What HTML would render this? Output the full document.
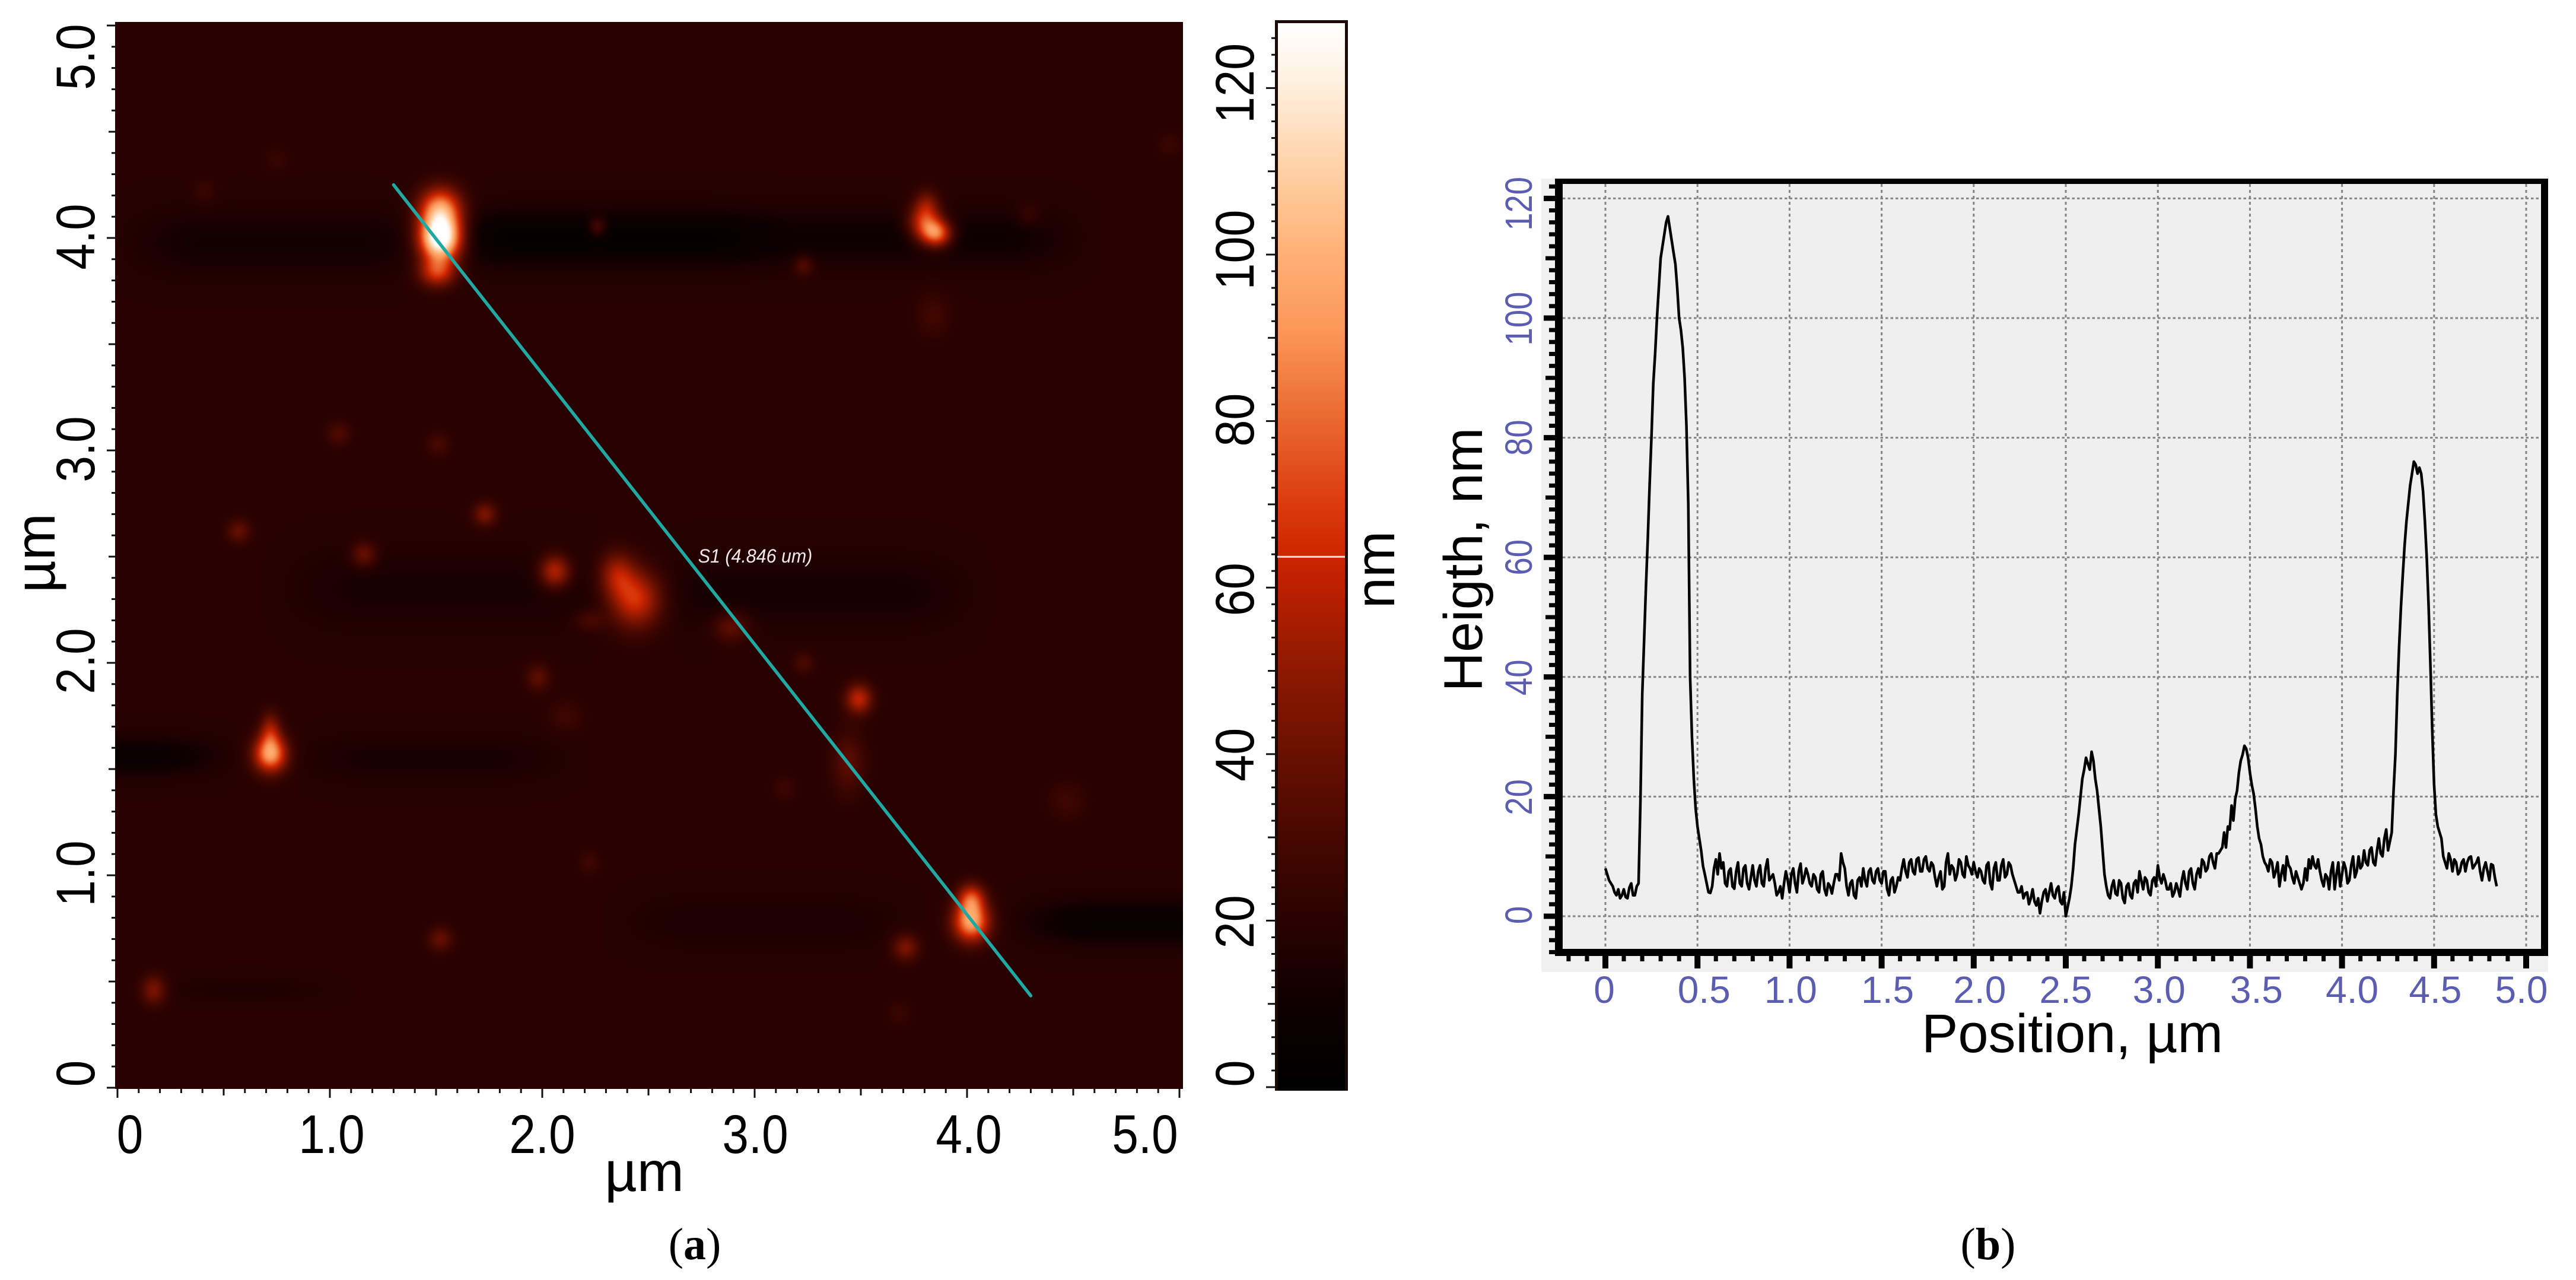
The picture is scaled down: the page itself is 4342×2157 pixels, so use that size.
<!DOCTYPE html>
<html lang="en">
<head>
<meta charset="utf-8">
<title>AFM height map and cross-section profile</title>
<style>
html,body{margin:0;padding:0;background:#fff;width:4342px;height:2157px;overflow:hidden}
#stage{position:relative;width:4342px;height:2157px}
#afm-canvas{position:absolute;left:194px;top:37px;width:1800px;height:1798px;display:block}
#figure{position:absolute;left:0;top:0}
text{font-family:"Liberation Sans",sans-serif}
</style>
</head>
<body>
<div id="stage">
<canvas id="afm-canvas" width="600" height="600"></canvas>
<svg id="figure" xmlns="http://www.w3.org/2000/svg" width="4342" height="2157" viewBox="0 0 4342 2157">
<defs>
<linearGradient id="cbar-gradient" x1="0" y1="1" x2="0" y2="0"></linearGradient>
</defs>
<g id="panel-a"></g>
<g id="panel-b"></g>
</svg>
</div>
<script>
// ---- Colour scale data (nm -> colour) ----
const colormapValues = [0, 10, 20, 30, 40, 50, 60, 64, 70, 80, 90, 100, 110, 120, 127];
const colormapColors = ['#000000','#0e0000','#2b0200','#470800','#6a1000','#8e1900','#bd2000','#cd2800','#dc3c10','#ea6a30','#fb9658','#ffb277','#ffd2a8','#fff0e0','#ffffff'];

// ---- Panel (a): AFM surface features (um, um, nm, um, um) ----
const baseHeight = 18.5;
const spotX = [1.52,1.52,1.505,3.80,3.86,3.81,2.26,3.23,3.84,1.04,1.51,1.73,0.57,1.16,2.06,2.44,2.35,2.22,2.89,3.23,3.49,1.98,2.11,0.72,0.72,3.44,4.02,4.02,3.71,1.52,0.17,4.47,3.14,2.22,3.68,4.29,0.41,0.75,4.95];
const spotY = [4.00,4.14,3.84,4.07,4.02,4.16,4.05,3.87,3.64,3.08,3.03,2.70,2.62,2.51,2.43,2.30,2.42,2.20,2.17,2.00,1.83,1.93,1.75,1.57,1.68,1.53,0.78,0.89,0.66,0.70,0.46,1.35,1.41,1.06,0.35,4.11,4.22,4.37,4.44];
const spotHeight = [140,85,64,68,78,40,40,35,28,32,30,44,38,40,60,66,50,30,38,31,60,36,27,92,50,36,94,66,44,38,44,27,26,27,25,26,25,24,25];
const spotSigmaX = [.068,.07,.06,.055,.05,.04,.03,.032,.055,.04,.04,.04,.04,.042,.052,.085,.06,.05,.06,.035,.045,.04,.055,.055,.035,.055,.06,.045,.045,.042,.042,.06,.04,.035,.04,.04,.04,.04,.04];
const spotSigmaY = [.075,.07,.05,.06,.045,.05,.033,.035,.07,.04,.04,.04,.04,.042,.055,.095,.075,.035,.05,.035,.05,.045,.05,.06,.06,.1,.065,.05,.045,.042,.05,.06,.04,.04,.04,.04,.04,.04,.04];
const bandY = [3.98,4.00,4.00,2.35,2.33,1.56,1.55,0.78,0.78,0.46];
const bandStart = [0.15,1.62,3.00,0.90,2.60,-0.30,0.95,4.35,2.50,0.30];
const bandEnd = [1.40,3.00,4.40,2.30,3.90,0.40,2.00,5.30,3.60,0.90];
const bandDepth = [7,15,9,5,6,12,5,13,4,3];
const bandThickness = [.1,.09,.09,.12,.11,.06,.07,.07,.08,.035];
const scanStart = [1.30,4.25];
const scanEnd = [4.30,0.433];

const mapTickLabels = ['0','1.0','2.0','3.0','4.0','5.0'];
const mapTickValues = [0,1,2,3,4,5];
const cbarTickLabels = ['0','20','40','60','80','100','120'];
const cbarTickValues = [0,20,40,60,80,100,120];
const cbarMarker = 63.7;

// ---- Panel (b): profile heights (nm), one sample every 0.02 um from 0 ----
const profileStep = 0.02;
const profileHeight = [
8,6,5,3.5,3,4.5,3,5.5,3.5,5.5,
37,55,72,89,100,110,114,117,113,109,
100,95,82,40,23,15,11,7,4,5,
9.5,10.5,9,5,8,4.6,9,5,8.5,4.5,
8.5,5,8.5,5,9.5,6.5,5.5,4,3,7.5,
4,8,4,8.8,6.5,7,5,6.5,4,7.5,
3.5,5,5.5,7,10.5,8,3.5,6,3,6.5,
8,5,8,5.5,8,5.5,7.5,3.5,6.5,5,
6,9.5,6.5,9.5,7,9.8,7.5,10,7.5,8.5,
5,7.5,5,10.5,8.5,6,9.5,7,10,8,
9,6.5,7.5,5.5,9,4.5,9,6,9.5,7,
8.5,6,4,5,3.8,2,4.5,1.8,0.5,4,
2.5,5.5,3,5,2,0,3,8,14.5,20,
24.5,25.5,27.5,23,18,11,5,3,6,3.5,
5.5,2.2,5.5,3,6,7.5,4.5,6,3.5,6.5,
8.5,5.5,6,4.5,3.3,5.5,3.3,7.5,4.5,8,
4.5,8,9.5,7.5,10,9,10.5,11,14,15,
18.5,19.6,24,27,28,24,20.5,15,12,9,
7.5,9,7.5,5,8.5,10,8,5.5,6.5,4.5,
8,9.5,10,8,7.5,5,6.5,7.5,4.5,9,
7,8,6,10,7.5,8,11,8.5,11.5,8.5,
13,10,14.5,12.5,21,37,51.6,62,69,74,
75.5,75,71,60,42,22,15,13,9,10.5,
7.5,9,7.5,9.5,9,10,8.5,9.8,6,9,
6,8.5,5];
// samples lying halfway between consecutive profileHeight samples
const profileHeightBetween = [
7,5.5,4,4.5,3.5,3.2,4.8,3.5,5,19,
46,63,80,94,105,112,116,115,111,105,
98,90,69,30,18,13,8.4,5.5,3.9,8,
7,8,5.5,7.5,5,7.5,5.5,8,5.5,6.5,
6,7.5,5.5,8,6,7,3.5,5,5.5,6,
7,5.5,7.5,5.5,8,5.5,7,4.5,7,4.5,
5.5,3.8,7,6,9,5,5.5,3.5,6,5,
6,7.5,6,7.5,6,7.5,4.5,6,4,6.5,
8,7.5,9,7.5,9.5,7.5,9.5,8,9,6.5,
6.5,4.5,9,7,8,7,9,6.5,8.5,7,
7.5,8,6,8.5,5.5,8,6,8.5,6.5,9,
7,5,4,3,4,3,2.5,3,2.5,4.5,
4,3.5,4.5,2.5,4,1.5,5,12,17,23,
26.5,24.5,26,21,15,7,3.5,5,3.8,6,
3,5,3.5,5.5,4,6,6.5,4,6,5,
6.5,7,4.5,5.5,4,4.5,6,5.5,7.5,5.5,
7,6.5,9,8,10.5,8,10.5,11.5,11.5,14.5,
16,21,26,28.5,26.5,22,18,13,10,8.5,
9.5,6.5,9,7,6,8.5,6.5,7.5,5.5,5.5,
6,8,8.5,9.5,6,7,4.5,9,7,5,
9,5.5,8.5,6.5,10,8.5,9,11,9,11,
10.5,13,11,14,27,45,57,66,72,76,
74,74,66,52,31,17,14,10,8,9.5,
9.5,7,9,7.5,9.8,8,9,7.5,8,7.5,
8.7,6.5];
const profileXLabels = ['0','0.5','1.0','1.5','2.0','2.5','3.0','3.5','4.0','4.5','5.0'];
const profileXValues = [0,0.5,1,1.5,2,2.5,3,3.5,4,4.5,5];
const profileYLabels = ['0','20','40','60','80','100','120'];
const profileYValues = [0,20,40,60,80,100,120];

// ---- Layout-only label nudges (pixels, not data) ----
const layoutMapXNudge = [21,3,0,1,3,-58];
const layoutMapYNudge = [-24,-3,-3,-2,-2,53];
const layoutCbarNudge = [-23,2,1,3,-2,-8,-8];
const layoutProfileXNudge = [-2,11,2,10,10,0,2,11,17,2,-8];
const layoutProfileYNudge = [-2,1,1,0,0,1,9];

// ---- Axis functions ----
const mapX = v => 198 + 358 * v;
const mapY = v => 1833 - 358 * v;
const cbarY = v => 1832 - 14.03 * v;
const profX = v => 2706 + 310.4 * v;
const profY = v => 1544 - 10.08 * v;

const NS = 'http://www.w3.org/2000/svg';
const panelA = document.getElementById('panel-a');
const panelB = document.getElementById('panel-b');

function hexRgb(h){return [parseInt(h.slice(1,3),16),parseInt(h.slice(3,5),16),parseInt(h.slice(5,7),16)];}
const colormapRgb = colormapColors.map(hexRgb);
function colorFor(v){
  if(v<=colormapValues[0]) return colormapRgb[0];
  for(let i=1;i<colormapValues.length;i++){
    if(v<=colormapValues[i]){
      const t=(v-colormapValues[i-1])/(colormapValues[i]-colormapValues[i-1]);
      const a=colormapRgb[i-1],b=colormapRgb[i];
      return [a[0]+(b[0]-a[0])*t,a[1]+(b[1]-a[1])*t,a[2]+(b[2]-a[2])*t];
    }
  }
  return colormapRgb[colormapRgb.length-1];
}
function smooth(e0,e1,x){const t=Math.max(0,Math.min(1,(x-e0)/(e1-e0)));return t*t*(3-2*t);}
function heightAt(ux,uy){
  let h=baseHeight;
  for(let i=0;i<bandY.length;i++){
    const dy=(uy-bandY[i])/bandThickness[i];
    const edge=smooth(bandStart[i]-0.25,bandStart[i]+0.25,ux)*(1-smooth(bandEnd[i]-0.25,bandEnd[i]+0.25,ux));
    h-=bandDepth[i]*edge*Math.exp(-0.5*dy*dy);
  }
  for(let i=0;i<spotX.length;i++){
    const dx=(ux-spotX[i])/spotSigmaX[i], dy=(uy-spotY[i])/spotSigmaY[i];
    h+=(spotHeight[i]-baseHeight)*Math.exp(-0.5*(dx*dx+dy*dy));
  }
  return h;
}
function drawMap(){
  const c=document.getElementById('afm-canvas');
  const ctx=c.getContext('2d');
  const img=ctx.createImageData(c.width,c.height);
  for(let j=0;j<c.height;j++){
    const py=37+(j+0.5)*1798/c.height;
    const uy=(1833-py)/358;
    for(let i=0;i<c.width;i++){
      const px=194+(i+0.5)*1800/c.width;
      const ux=(px-198)/358;
      const col=colorFor(heightAt(ux,uy));
      const k=(j*c.width+i)*4;
      img.data[k]=col[0];img.data[k+1]=col[1];img.data[k+2]=col[2];img.data[k+3]=255;
    }
  }
  ctx.putImageData(img,0,0);
}
drawMap();

function addLine(parent,name,x1,y1,x2,y2,stroke,width){
  const el=document.createElementNS(NS,'line');
  
  
  el.setAttribute('x1',x1);el.setAttribute('y1',y1);el.setAttribute('x2',x2);el.setAttribute('y2',y2);
  el.setAttribute('stroke',stroke);el.setAttribute('stroke-width',width);
  parent.appendChild(el);
  return el;
}
function addRect(parent,name,x,y,w,h,fill){
  const el=document.createElementNS(NS,'rect');
  
  
  el.setAttribute('x',x);el.setAttribute('y',y);el.setAttribute('width',w);el.setAttribute('height',h);
  el.setAttribute('fill',fill);
  parent.appendChild(el);
  return el;
}
function addText(parent,name,x,y,str,size,fill,rot,sx,extra){
  const el=document.createElementNS(NS,'text');
  
  
  el.setAttribute('transform','translate('+x+' '+y+') rotate('+rot+') scale('+sx+' 1)');
  el.setAttribute('text-anchor','middle');
  el.setAttribute('font-size',size);
  el.setAttribute('fill',fill);
  if(extra){for(const k in extra){el.setAttribute(k,extra[k]);}}
  el.textContent=str;
  parent.appendChild(el);
  return el;
}

// ---- Panel (a) axes ----
for(let i=0;i<=50;i++){
  const v=i/10;
  const len=i%10===0?15:(i%5===0?11:7);
  addLine(panelA,'map-x-tick',mapX(v),1835,mapX(v),1835+len,'#111',3);
  const ylen=i%10===0?14:(i%5===0?11:6);
  addLine(panelA,'map-y-tick',194-ylen,mapY(v),194,mapY(v),'#111',3);
}
mapTickValues.forEach((v,i)=>{
  addText(panelA,'map-x-tick-label',mapX(v)+layoutMapXNudge[i],1943,mapTickLabels[i],92,'#000',0,0.87);
  addText(panelA,'map-y-tick-label',159,mapY(v)+layoutMapYNudge[i],mapTickLabels[i],92,'#000',-90,0.87);
});
addText(panelA,'map-x-axis-title',1086,2007,'µm',95,'#000',0,1);
addText(panelA,'map-y-axis-title',92,932,'µm',95,'#000',-90,1);

// ---- Scan line on the map ----
const scan=addLine(panelA,'scan-line-s1',mapX(scanStart[0]),mapY(scanStart[1]),mapX(scanEnd[0]),mapY(scanEnd[1]),'#20a9a3',5.5);
scan.setAttribute('stroke-linecap','round');
addText(panelA,'scan-line-label',1273,948,'S1 (4.846 um)',32,'#f2eaea',0,0.95,{'font-style':'italic'});

// ---- Colour bar ----
const grad=document.getElementById('cbar-gradient');
colormapValues.forEach((v,i)=>{
  const s=document.createElementNS(NS,'stop');
  s.setAttribute('offset',v/127);
  s.setAttribute('stop-color',colormapColors[i]);
  grad.appendChild(s);
});
addRect(panelA,'colorbar-frame',2149,34,123,1804,'#1c0a06');
addRect(panelA,'colorbar-gradient',2154,39,113,1793,'url(#cbar-gradient)');
addRect(panelA,'colorbar-base',2154,1832,113,6,'#000');
addLine(panelA,'colorbar-marker',2153,cbarY(cbarMarker),2267,cbarY(cbarMarker),'#ffe8d8',3);
for(let v=0;v<=126;v+=2){
  const x0=v%20===0?2134:(v%10===0?2137:2143);
  addLine(panelA,'colorbar-tick',x0,cbarY(v),2149,cbarY(v),'#111',3);
}
cbarTickValues.forEach((v,i)=>{
  addText(panelA,'colorbar-tick-label',2113,cbarY(v)+layoutCbarNudge[i],cbarTickLabels[i],92,'#000',-90,0.88);
});
addText(panelA,'colorbar-title',2350,960,'nm',94,'#000',-90,1);

addText(panelA,'panel-a-caption',1171,2122,'(a)',76,'#000',0,1,{'style':'font-family:"Liberation Serif",serif'});
panelA.lastChild.innerHTML='(<tspan font-weight="bold">a</tspan>)';

// ---- Panel (b) ----
addRect(panelB,'plot-backdrop',2598,301,1697,1337,'#f0f0f0');
addRect(panelB,'plot-area',2630,308,1655,1293,'#efefef');
profileYValues.forEach(v=>{
  const g=addLine(panelB,'grid-horizontal',2634,profY(v),4283,profY(v),'#858585',3);
  g.setAttribute('stroke-dasharray','4.5 4');
});
profileXValues.forEach(v=>{
  const g=addLine(panelB,'grid-vertical',profX(v),310,profX(v),1599,'#858585',3);
  g.setAttribute('stroke-dasharray','5 5');
});
// frame
addRect(panelB,'frame-top',2621,301,1674,9,'#000');
addRect(panelB,'frame-bottom',2621,1599,1674,12,'#000');
addRect(panelB,'frame-left',2621,301,13,1310,'#000');
addRect(panelB,'frame-right',4283,301,12,1310,'#000');
// ticks
for(let i=-2;i<=50;i++){
  const v=i/10;
  const major=i%5===0;
  addLine(panelB,'profile-x-tick',profX(v),1611,profX(v),major?1632:1620,'#000',major?10:7);
}
for(let v=-6;v<=122;v+=2){
  const major=v%20===0, mid=v%10===0;
  addLine(panelB,'profile-y-tick',major?2602:(mid?2605:2611),profY(v),2621,profY(v),'#000',major?9:7);
}
profileXValues.forEach((v,i)=>{
  addText(panelB,'profile-x-tick-label',profX(v)+layoutProfileXNudge[i],1690,profileXLabels[i],64,'#5a5db2',0,1);
});
profileYValues.forEach((v,i)=>{
  addText(panelB,'profile-y-tick-label',2582,profY(v)+layoutProfileYNudge[i],profileYLabels[i],64,'#5a5db2',-90,0.85);
});
addText(panelB,'profile-x-axis-title',3493,1773,'Position, µm',92,'#000',0,1);
addText(panelB,'profile-y-axis-title',2498,943,'Heigth, nm',92,'#000',-90,1);

// profile trace: main samples interleaved with the halfway samples
const tracePoints=[];
profileHeight.forEach((h,i)=>{
  tracePoints.push(profX(i*profileStep).toFixed(1)+','+profY(h).toFixed(1));
  if(i<profileHeightBetween.length){
    tracePoints.push(profX((i+0.5)*profileStep).toFixed(1)+','+profY(profileHeightBetween[i]).toFixed(1));
  }
});
const trace=document.createElementNS(NS,'polyline');


trace.setAttribute('points',tracePoints.join(' '));
trace.setAttribute('fill','none');
trace.setAttribute('stroke','#000');
trace.setAttribute('stroke-width','4.5');
trace.setAttribute('stroke-linejoin','round');
panelB.appendChild(trace);

addText(panelB,'panel-b-caption',3351,2122,'(b)',76,'#000',0,1,{'style':'font-family:"Liberation Serif",serif'});
panelB.lastChild.innerHTML='(<tspan font-weight="bold">b</tspan>)';
</script>
</body>
</html>
